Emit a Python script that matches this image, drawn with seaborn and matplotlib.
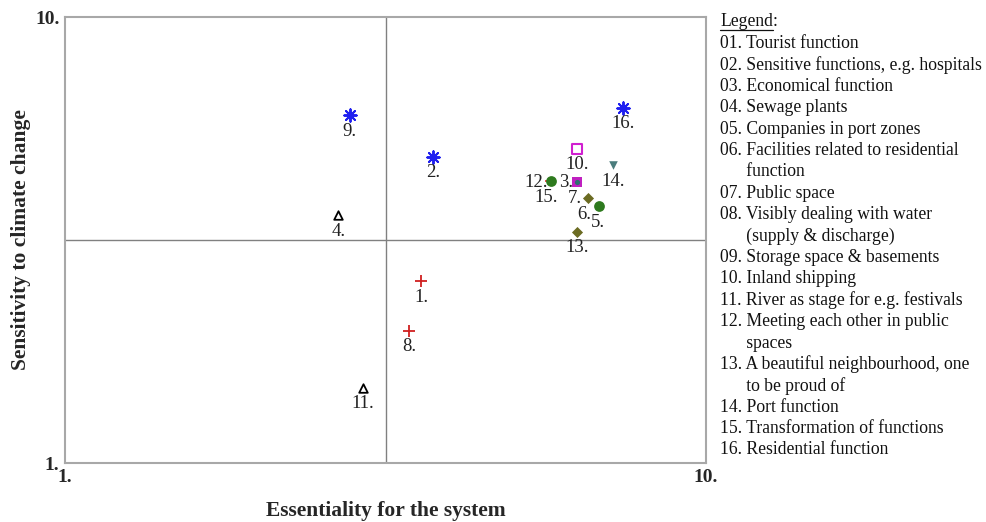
import matplotlib
matplotlib.use("Agg")
import matplotlib.pyplot as plt
import seaborn as sns
import pandas as pd

# scores per function (essentiality, sensitivity)
ids = [1, 2, 3, 4, 5, 6, 7, 8, 9, 10, 11, 12, 13, 14, 15, 16]
essentiality = [6.0, 6.17, 8.19, 4.84, 8.5, 8.35, 8.19, 5.83, 5.0, 8.19, 5.18, 7.83, 8.19, 8.69, 7.8, 8.84]
sensitivity = [4.67, 7.18, 6.68, 6.0, 6.18, 6.34, 6.68, 3.67, 8.02, 7.34, 2.52, 6.69, 5.67, 7.01, 6.69, 8.17]
group = ["plus", "star", "sq_fill", "tri", "circle", "diamond", "dot", "plus", "star", "sq_open",
         "tri", "circle", "diamond", "tri_down", "dash", "star"]

legend_lines = [
    "01. Tourist function",
    "02. Sensitive functions, e.g. hospitals",
    "03. Economical function",
    "04. Sewage plants",
    "05. Companies in port zones",
    "06. Facilities related to residential",
    "      function",
    "07. Public space",
    "08. Visibly dealing with water",
    "      (supply & discharge)",
    "09. Storage space & basements",
    "10. Inland shipping",
    "11. River as stage for e.g. festivals",
    "12. Meeting each other in public",
    "      spaces",
    "13. A beautiful neighbourhood, one",
    "      to be proud of",
    "14. Port function",
    "15. Transformation of functions",
    "16. Residential function",
]

df = pd.DataFrame({"id": ids, "x": essentiality, "y": sensitivity, "group": group})

# marker styles per group
styles = {
    "plus": dict(marker="+", color="#d02020", s=80, linewidth=1.3),
    "star": dict(marker=(8, 2, 0), color="#2020f0", s=80, linewidth=1.4),
    "tri": dict(marker="^", facecolor="white", edgecolor="black", s=38, linewidth=1.3),
    "sq_open": dict(marker="s", facecolor="white", edgecolor="#d020d0", s=42, linewidth=1.5),
    "sq_fill": dict(marker="s", color="#c020c0", s=58, linewidth=0),
    "dot": dict(marker="o", color="#2f6f6f", s=14, linewidth=0),
    "circle": dict(marker="o", color="#2e7a1e", s=60, linewidth=0),
    "diamond": dict(marker="D", color="#6b6b22", s=32, linewidth=0),
    "tri_down": dict(marker="v", color="#4a7c7c", s=38, linewidth=0),
    "dash": dict(marker="_", color="#e03030", s=30, linewidth=1.2),
}
draw_order = ["plus", "star", "tri", "sq_open", "dash", "circle", "sq_fill", "dot", "diamond", "tri_down"]

# label offsets in pixels (default: centred below the marker)
label_offsets = {12: (-15, -1), 3: (-11, -1), 15: (-3, -16), 7: (-2, -17), 6: (-4, -16), 5: (-1, -16)}

sns.set_style("white")
plt.rcParams["font.family"] = ["Liberation Serif", "DejaVu Serif"]

fig = plt.figure(figsize=(9.86, 5.22), dpi=100)
ax = fig.add_axes([65 / 986, 59 / 522, 641 / 986, 446 / 522])

for g in draw_order:
    sub = df[df["group"] == g]
    sns.scatterplot(data=sub, x="x", y="y", ax=ax, legend=False, zorder=3, **styles[g])

for _, r in df.iterrows():
    dx, dy = label_offsets.get(r["id"], (0, -16))
    ax.annotate(f"{r['id']}.", (r["x"], r["y"]), xytext=(dx, dy), textcoords="offset pixels",
                ha="center", va="center", fontsize=13.5, color="#222222", zorder=4)

ax.axvline(5.5, color="#808080", lw=1, zorder=1)
ax.axhline(5.5, color="#808080", lw=1, zorder=1)

ax.set_xlim(1, 10)
ax.set_ylim(1, 10)
ax.set_xticks(range(1, 11))
ax.set_yticks(range(1, 11))
ax.set_xticklabels(["1."] + [""] * 8 + ["10."], fontweight="bold", fontsize=14)
ax.set_yticklabels(["1."] + [""] * 8 + ["10."], fontweight="bold", fontsize=14)
ax.tick_params(direction="inout", length=4, width=1, color="#a0a0a0", pad=2)
for sp in ax.spines.values():
    sp.set_color("#a8a8a8")
    sp.set_linewidth(1.5)

ax.set_xlabel("Essentiality for the system", fontweight="bold", fontsize=15.5, labelpad=11)
ax.set_ylabel("Sensitivity to climate change", fontweight="bold", fontsize=15.5, labelpad=3)

# legend text block
fs = 12.7
x0 = 720 / 986
y0 = 1 - 22 / 522
step = 21.4 / 522
t = fig.text(x0, y0, "Legend", fontsize=fs, va="center", ha="left", color="#111111")
renderer = fig.canvas.get_renderer()
bb = t.get_window_extent(renderer)
fig.text(bb.x1 / 986, y0, ":", fontsize=fs, va="center", ha="left", color="#111111")
fig.lines.append(plt.Line2D([bb.x0 / 986, bb.x1 / 986], [(bb.y0 + 1) / 522] * 2,
                            transform=fig.transFigure, color="#111111", lw=0.9))
for i, line in enumerate(legend_lines):
    fig.text(x0, y0 - (i + 1) * step, line, fontsize=fs, va="center", ha="left",
             color="#111111")

fig.savefig("out.png", dpi=100)
